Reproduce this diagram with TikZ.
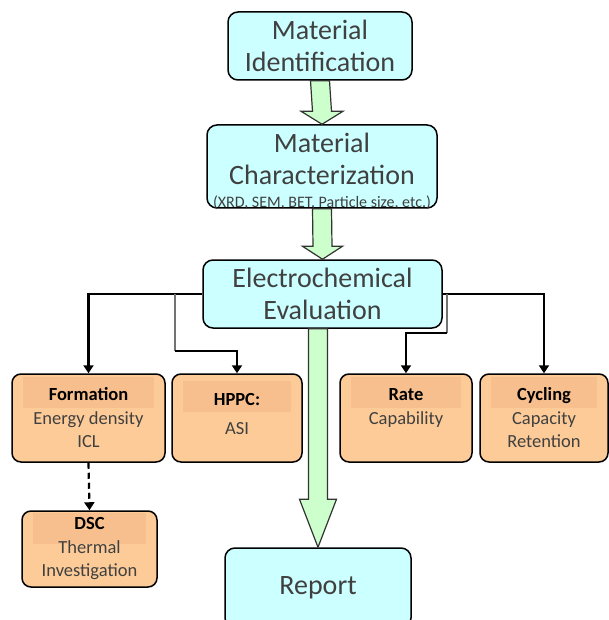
\documentclass[tikz,border=0pt]{standalone}
\usepackage{fontspec}
\setmainfont{Carlito}
\usetikzlibrary{arrows.meta,calc}
\definecolor{boxcyan}{HTML}{CCFFFF}
\definecolor{boxorange}{HTML}{FDCB98}
\definecolor{bandorange}{HTML}{F8BF8E}
\definecolor{arrowgreen}{HTML}{CCFFCC}
\definecolor{textgray}{HTML}{404040}
\newcommand{\tname}[1]{\textcolor{black}{\bfseries #1}}
% block arrow: start, tip, head length, head half width
\newcommand{\blockarrow}[4]{%
  \draw[bigarrow] ($(#1)+(-9.5,0)$) -- ($(#2)+(-9.5,-#3)$) -- ($(#2)+(-#4,-#3)$)
    -- (#2) -- ($(#2)+(#4,-#3)$) -- ($(#2)+(9.5,-#3)$) -- ($(#1)+(9.5,0)$) -- cycle;}

\begin{document}
\begin{tikzpicture}[x=1pt,y=-1pt,
  stage/.style={draw=black,line width=1.5pt,rounded corners=10pt,fill=boxcyan,
    text=textgray,align=center,font=\fontsize{28}{32}\selectfont},
  note/.style={text=textgray,inner sep=0pt,font=\fontsize{16}{16}\selectfont},
  test/.style={draw=black,line width=1.5pt,rounded corners=9pt,fill=boxorange,
    text=textgray,align=center,font=\fontsize{18.5}{23.5}\selectfont,
    path picture={\fill[bandorange,sharp corners]
      ($(path picture bounding box.north west)+(11,#1)$) rectangle
      ($(path picture bounding box.north east)+(-11,{#1+31})$);}},
  test/.default=3,
  conn/.style={-{Triangle[width=10pt,length=8pt]},line width=2.2pt},
  split/.style={line width=2pt,black!55},
  bigarrow/.style={draw=black!80,line width=1.2pt,fill=arrowgreen}]
\useasboundingbox (0,0) rectangle (609,620);

% main stages
\node[stage,minimum width=184pt,minimum height=68pt] (ident) at (320,46) {Material\\Identification};
\node[stage,minimum width=230pt,minimum height=83pt,text depth=16pt] (charac) at (322,166.5)
  {Material\\Characterization};
\node[note,anchor=base] (charnote) at ($(charac.south)+(0,-1.5)$) {(XRD, SEM, BET, Particle size, etc.)};
\node[stage,minimum width=239pt,minimum height=68pt] (eval) at (322.5,294) {Electrochemical\\Evaluation};
\node[stage,minimum width=186pt,minimum height=80pt] (report) at (318,588) {Report};

% tests
\node[test,minimum width=153pt,minimum height=88pt] (form) at (88.5,418) {\tname{Formation}\\Energy density\\ICL};
\node[test=7,minimum width=130pt,minimum height=88pt,text depth=8pt] (hppc) at (237,418) {\tname{HPPC:}\\[6pt]ASI};
\node[test,minimum width=132pt,minimum height=88pt] (rate) at (406,418) {\tname{Rate}\\Capability\\\mbox{}};
\node[test,minimum width=128pt,minimum height=88pt] (cycle) at (544,418) {\tname{Cycling}\\Capacity\\Retention};
\node[test=2,minimum width=135pt,minimum height=76pt] (dsc) at (89.5,549) {\tname{DSC}\\Thermal\\Investigation};

% block arrows
\blockarrow{ident.south}{charac.north}{13}{21}
\blockarrow{charac.south}{eval.north}{13}{20}
\blockarrow{eval.south -| report.north}{report.north}{48}{18.5}

% connectors
\coordinate (lsplit) at (175,294);
\coordinate (lbend) at (175,351);
\coordinate (rsplit) at (447,294);
\coordinate (rbend) at (447,333);
\draw[conn] (eval.west) -| (form.north);
\draw[split] (lsplit) -- (lbend);
\draw[conn] (lbend) -| (hppc.north);
\draw[conn] (eval.east) -| (cycle.north);
\draw[split] (rsplit) -- (rbend);
\draw[conn] (rbend) -| (rate.north);
\draw[conn,dash pattern=on 6pt off 4pt] (form.south) -- (dsc.north);
\end{tikzpicture}
\end{document}
